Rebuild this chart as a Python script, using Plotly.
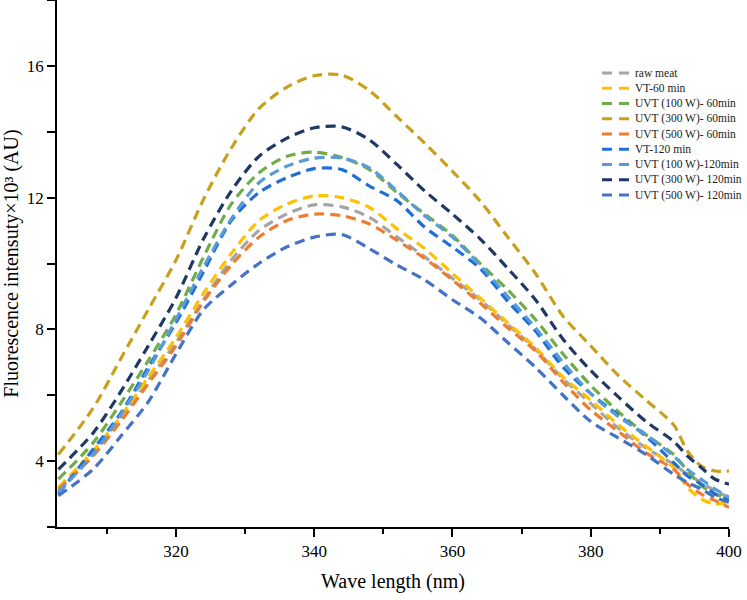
import plotly.graph_objects as go

wavelength = [303, 308, 312, 316, 320, 324, 328, 332, 336, 340, 344, 348, 352, 356,
              360, 364, 368, 372, 376, 380, 384, 388, 392, 394, 396, 398, 400]

raw_meat = [3.1, 4.2, 5.3, 6.45, 7.6, 8.9, 10.1, 11.0, 11.5, 11.78, 11.72, 11.4, 10.8, 10.2,
            9.55, 8.9, 8.15, 7.4, 6.5, 5.75, 5.0, 4.4, 3.9, 3.6, 3.35, 3.1, 2.9]
vt_60 = [3.2, 4.3, 5.35, 6.55, 7.75, 9.1, 10.3, 11.3, 11.8, 12.05, 12.0, 11.7, 11.05, 10.45,
         9.7, 8.95, 8.2, 7.45, 6.55, 5.85, 5.1, 4.45, 3.8, 3.2, 2.85, 2.7, 2.75]
uvt100_60 = [3.45, 4.55, 5.75, 7.05, 8.45, 10.2, 11.8, 12.75, 13.25, 13.38, 13.22, 12.85, 12.15, 11.5,
             10.85, 10.0, 9.2, 8.3, 7.25, 6.3, 5.5, 4.8, 4.2, 3.7, 3.25, 3.0, 2.85]
uvt300_60 = [4.2, 5.6, 7.1, 8.6, 10.1, 11.95, 13.5, 14.7, 15.35, 15.7, 15.72, 15.25, 14.45, 13.65,
             12.8, 11.9, 10.8, 9.7, 8.4, 7.5, 6.6, 5.85, 5.1, 4.3, 3.85, 3.7, 3.7]
uvt500_60 = [3.15, 4.15, 5.2, 6.35, 7.5, 8.85, 9.95, 10.8, 11.3, 11.5, 11.45, 11.2, 10.7, 10.15,
             9.5, 8.8, 8.05, 7.35, 6.4, 5.55, 4.9, 4.25, 3.75, 3.3, 3.0, 2.8, 2.6]
vt_120 = [3.0, 4.35, 5.45, 6.85, 8.2, 9.75, 11.3, 12.15, 12.6, 12.88, 12.85, 12.35, 11.9, 11.1,
          10.5, 9.85, 8.85, 7.95, 6.85, 6.05, 5.4, 4.75, 3.95, 3.55, 3.3, 3.0, 2.8]
uvt100_120 = [3.05, 4.2, 5.4, 6.75, 8.3, 9.9, 11.35, 12.45, 12.95, 13.2, 13.2, 12.9, 12.2, 11.45,
              10.8, 9.95, 9.0, 8.05, 7.0, 6.05, 5.35, 4.8, 4.15, 3.75, 3.45, 3.15, 2.9]
uvt300_120 = [3.75, 4.85, 6.1, 7.5, 8.95, 10.75, 12.2, 13.25, 13.8, 14.12, 14.15, 13.75, 13.0, 12.2,
              11.5, 10.75, 9.85, 8.9, 7.7, 6.75, 5.95, 5.2, 4.6, 4.15, 3.8, 3.45, 3.3]
uvt500_120 = [2.95, 3.75, 4.75, 5.8, 7.25, 8.6, 9.35, 10.0, 10.5, 10.8, 10.88, 10.45, 9.95, 9.5,
              8.9, 8.35, 7.6, 6.85, 6.0, 5.2, 4.7, 4.2, 3.6, 3.35, 3.15, 2.9, 2.75]

series_names = ["raw meat", "VT-60 min", "UVT (100 W)- 60min", "UVT (300 W)- 60min",
                "UVT (500 W)- 60min", "VT-120 min", "UVT (100 W)-120min",
                "UVT (300 W)- 120min", "UVT (500 W)- 120min"]
series_values = [raw_meat, vt_60, uvt100_60, uvt300_60, uvt500_60,
                 vt_120, uvt100_120, uvt300_120, uvt500_120]
colors = ["#A5A5A5", "#FFC000", "#70AD47", "#C9A01E", "#ED7D31",
          "#1F6FD6", "#5B9BD5", "#1F3864", "#4472C4"]

x_tick_vals = [320, 340, 360, 380, 400]
y_tick_vals = [4, 8, 12, 16]

W, H = 747, 600
L, R, T, B = 57, 729, 0, 527  # plot-area edges in pixels


def px_x(px):
    return (px - L) / (R - L)


def px_y(py):
    return 1 - (py - T) / (B - T)


fig = go.Figure()
for name, vals, col in zip(series_names, series_values, colors):
    fig.add_trace(go.Scatter(
        x=wavelength, y=vals, name=name, mode="lines", showlegend=False,
        line=dict(color=col, width=3.2, dash="10px,6px", shape="spline", smoothing=0.8),
    ))

font_family = "Liberation Serif, Times New Roman, serif"

# legend drawn as shapes + annotations (tighter spacing than plotly's legend allows)
shapes = []
annotations = []
leg_top, leg_step = 73, 15.25
for i, (name, col) in enumerate(zip(series_names, colors)):
    cy = leg_top + i * leg_step
    shapes.append(dict(
        type="line", xref="paper", yref="paper",
        x0=px_x(602), x1=px_x(629), y0=px_y(cy), y1=px_y(cy),
        line=dict(color=col, width=3.2, dash="10px,7px"),
    ))
    annotations.append(dict(
        xref="paper", yref="paper", x=px_x(633), y=px_y(cy),
        xanchor="left", yanchor="middle", showarrow=False,
        text=name, font=dict(family=font_family, size=11.5, color="#222"),
    ))

fig.update_layout(
    width=W, height=H,
    margin=dict(l=L, r=W - R, t=T, b=H - B),
    paper_bgcolor="white", plot_bgcolor="white",
    font=dict(family=font_family, color="black"),
    showlegend=False,
    shapes=shapes,
    annotations=annotations,
)

fig.update_xaxes(
    range=[302.8, 400],
    tickvals=x_tick_vals,
    ticks="outside", ticklen=8, tickwidth=1.5, tickcolor="black",
    minor=dict(dtick=10, tick0=300, ticks="outside", ticklen=5, tickwidth=1.5, tickcolor="black"),
    showline=True, linecolor="black", linewidth=1.8,
    showgrid=False, zeroline=False,
    tickfont=dict(family=font_family, size=17, color="black"),
    title=dict(text="Wave length (nm)", font=dict(family=font_family, size=20, color="black"), standoff=14),
)
fig.update_yaxes(
    range=[2, 18],
    tickvals=y_tick_vals,
    ticks="outside", ticklen=8, tickwidth=1.5, tickcolor="black",
    minor=dict(dtick=2, tick0=0, ticks="outside", ticklen=8, tickwidth=1.5, tickcolor="black"),
    showline=True, linecolor="black", linewidth=1.8,
    showgrid=False, zeroline=False,
    tickfont=dict(family=font_family, size=17, color="black"),
    title=dict(text="Fluorescence intensuty×10³ (AU)", font=dict(family=font_family, size=20, color="black"), standoff=10),
)

fig.write_html(
    "out.html",
    config={"displayModeBar": False},
    post_script="document.body.style.margin='0';document.body.style.overflow='hidden';",
)
